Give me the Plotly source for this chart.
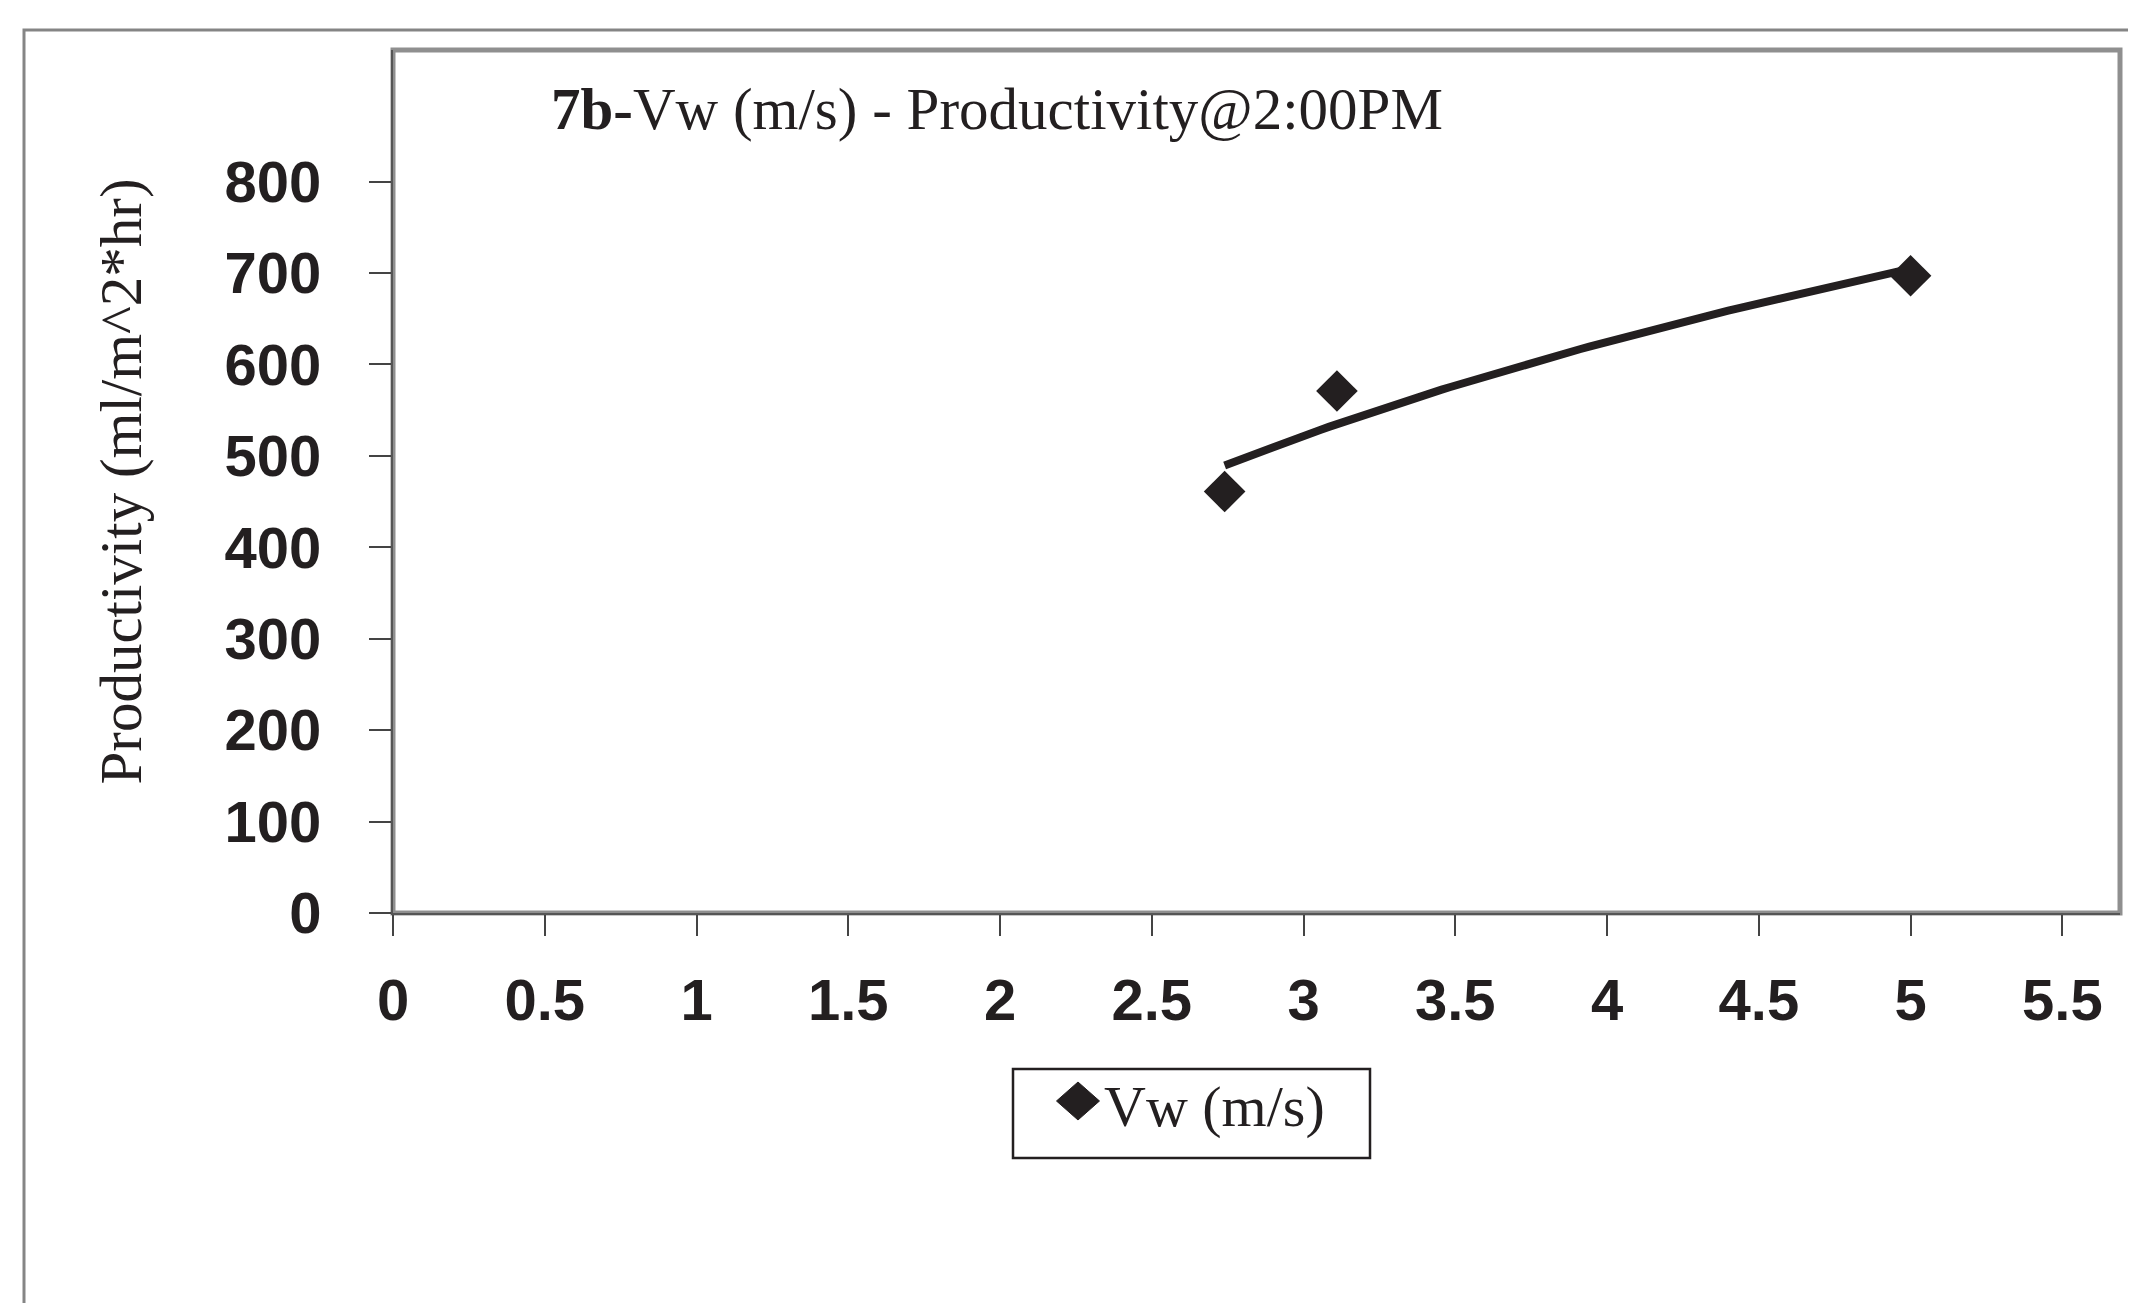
import numpy as np
import plotly.graph_objects as go

# ---- data ----
vw = [2.74, 3.11, 5.0]                 # wind speed (m/s)
productivity = [461, 571, 697]         # ml/m^2*hr
series_name = "Vw (m/s)"
x_ticks = [0, 0.5, 1, 1.5, 2, 2.5, 3, 3.5, 4, 4.5, 5, 5.5]
y_ticks = [0, 100, 200, 300, 400, 500, 600, 700, 800]

# logarithmic trendline fitted to the data (as in the source spreadsheet)
b, a = np.polyfit(np.log(vw), productivity, 1)
trend_x = np.linspace(min(vw), max(vw), 80)
trend_y = a + b * np.log(trend_x)

W, H = 2136, 1303
L, R, T, B = 385, 24, 42, 398
pw, ph = W - L - R, H - T - B

def px_x(p):
    return (p - L) / pw

def px_y(p):
    return (H - B - p) / ph

ink = "#231f20"

fig = go.Figure()
fig.add_trace(go.Scatter(
    x=trend_x, y=trend_y, mode="lines",
    line=dict(color=ink, width=8), showlegend=False, hoverinfo="skip"))
fig.add_trace(go.Scatter(
    x=vw, y=productivity, mode="markers", name=series_name, showlegend=False,
    marker=dict(symbol="diamond", size=32, color=ink)))

# legend drawn by hand so the symbol can be as large as in the source
lg_cx, lg_cy, lg_hw, lg_hh = 1070, 1093, 21.5, 19
diamond = "M {:.5f},{:.5f} L {:.5f},{:.5f} L {:.5f},{:.5f} L {:.5f},{:.5f} Z".format(
    px_x(lg_cx - lg_hw), px_y(lg_cy),
    px_x(lg_cx), px_y(lg_cy - lg_hh),
    px_x(lg_cx + lg_hw), px_y(lg_cy),
    px_x(lg_cx), px_y(lg_cy + lg_hh))

fig.update_layout(
    width=W, height=H,
    margin=dict(l=L, r=R, t=T, b=B, autoexpand=False),
    paper_bgcolor="white", plot_bgcolor="white",
    showlegend=False,
    title=dict(text="<b>7b-</b>Vw (m/s) - Productivity@2:00PM",
               font=dict(family="Liberation Serif", size=59, color=ink),
               xref="paper", x=px_x(543), xanchor="left",
               yref="container", y=1 - 100 / H, yanchor="middle"),
    shapes=[
        dict(type="rect", xref="paper", yref="paper", x0=0, x1=1, y0=0, y1=1,
             line=dict(color="#8f8f8f", width=5), layer="below"),
        dict(type="rect", xref="paper", yref="paper",
             x0=px_x(16), x1=px_x(2150), y0=px_y(1320), y1=px_y(22),
             line=dict(color="#858585", width=3), layer="below"),
        dict(type="rect", xref="paper", yref="paper",
             x0=px_x(1005), x1=px_x(1362), y0=px_y(1150), y1=px_y(1061),
             line=dict(color=ink, width=2.5), fillcolor="white"),
        dict(type="path", xref="paper", yref="paper", path=diamond,
             line=dict(color=ink, width=1), fillcolor=ink),
    ],
    annotations=[
        dict(text=series_name, xref="paper", yref="paper",
             x=px_x(1094), xanchor="left", y=px_y(1098), yanchor="middle",
             showarrow=False,
             font=dict(family="Liberation Serif", size=58, color=ink)),
    ],
)

fig.update_xaxes(
    range=[0, 5.69], tickvals=x_ticks, ticktext=[f"{v:g}" for v in x_ticks],
    showgrid=False, zeroline=False, showline=True, linecolor="#555555", linewidth=2,
    ticks="outside", ticklen=21, tickwidth=2, tickcolor="#444444",
    ticklabelstandoff=14,
    tickfont=dict(family="Liberation Sans", size=58, color=ink, weight="bold"))

fig.update_yaxes(
    range=[0, 944], tickvals=y_ticks,
    showgrid=False, zeroline=False, showline=True, linecolor="#555555", linewidth=2,
    ticks="outside", ticklen=22, tickwidth=2, tickcolor="#444444",
    ticklabelstandoff=36,
    tickfont=dict(family="Liberation Sans", size=58, color=ink, weight="bold"),
    title=dict(text="Productivity (ml/m^2*hr)", standoff=64,
               font=dict(family="Liberation Serif", size=59, color=ink)))

fig.write_html("out.html")
